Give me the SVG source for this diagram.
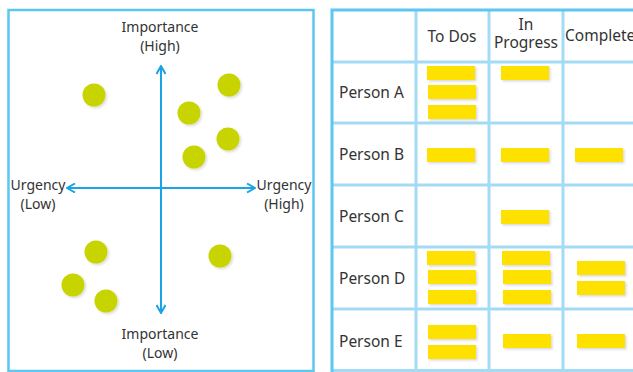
<svg xmlns="http://www.w3.org/2000/svg" width="633" height="372" viewBox="0 0 633 372">
<defs>
<style>
.t{font-family:"Noto Sans","Open Sans",sans-serif;font-size:14px;fill:#333;}
.tb{font-size:15.5px;}
.tc{text-anchor:middle;}
.dot{fill:#c8d400;filter:url(#sh);}
.bar{fill:#ffe100;filter:url(#sh);}
.ax{stroke:#1aa3e6;stroke-width:2;fill:none;}
.grid{stroke:#a3dbf5;stroke-width:3;fill:none;}
</style>
<filter id="sh" x="-30%" y="-30%" width="170%" height="170%">
<feDropShadow dx="1.5" dy="1.5" stdDeviation="1.2" flood-color="#000" flood-opacity="0.15"/>
</filter>
<marker id="ah" viewBox="0 0 10 10" refX="9" refY="5" markerWidth="10" markerHeight="10" markerUnits="userSpaceOnUse" orient="auto">
<path d="M1,0.5 L9,5 L1,9.5" fill="none" stroke="#1aa3e6" stroke-width="2"/>
</marker>
</defs>
<rect width="633" height="372" fill="#fff"/>

<g id="matrix">
<rect x="8.5" y="10" width="305" height="361" fill="#fff" stroke="#5cc7f0" stroke-width="2.5"/>
</g>
<g id="connectors">
<line class="ax" x1="161" y1="188" x2="161" y2="66" marker-end="url(#ah)"/>
<line class="ax" x1="161" y1="188" x2="161" y2="313" marker-end="url(#ah)"/>
<line class="ax" x1="161" y1="188" x2="67" y2="188" marker-end="url(#ah)"/>
<line class="ax" x1="161" y1="188" x2="255" y2="188" marker-end="url(#ah)"/>
</g>
<g id="labels">
<text class="t tc" x="160" y="32">Importance</text>
<text class="t tc" x="160" y="51">(High)</text>
<text class="t tc" x="38" y="190">Urgency</text>
<text class="t tc" x="38" y="209">(Low)</text>
<text class="t tc" x="284" y="190">Urgency</text>
<text class="t tc" x="284" y="209">(High)</text>
<text class="t tc" x="160" y="339">Importance</text>
<text class="t tc" x="160" y="358">(Low)</text>
</g>
<g id="dots">
<circle class="dot" cx="94" cy="95" r="11.5"/>
<circle class="dot" cx="229" cy="85" r="11.5"/>
<circle class="dot" cx="189" cy="113" r="11.5"/>
<circle class="dot" cx="228" cy="139" r="11.5"/>
<circle class="dot" cx="194" cy="157" r="11.5"/>
<circle class="dot" cx="96" cy="252" r="11.5"/>
<circle class="dot" cx="220" cy="256" r="11.5"/>
<circle class="dot" cx="73" cy="285" r="11.5"/>
<circle class="dot" cx="106" cy="301" r="11.5"/>
</g>

<g id="table">
<path class="grid" d="M416,10 V371 M489,10 V371 M563,10 V371 M331,62 H633 M331,123 H633 M331,185 H633 M331,247 H633 M331,309 H633 M331,370.5 H633"/>
<path d="M633,10 H332 V372" fill="none" stroke="#5cc7f0" stroke-width="3"/>
<text class="t tb tc" x="452" y="42">To Dos</text>
<text class="t tb tc" x="526" y="30">In</text>
<text class="t tb tc" x="526" y="48">Progress</text>
<text class="t tb" x="565" y="41">Complete</text>
<text class="t tb" x="339" y="98">Person A</text>
<text class="t tb" x="339" y="160">Person B</text>
<text class="t tb" x="339" y="222">Person C</text>
<text class="t tb" x="339" y="284">Person D</text>
<text class="t tb" x="339" y="347">Person E</text>
</g>
<g id="bars">
<rect class="bar" x="427" y="66" width="48" height="14"/>
<rect class="bar" x="428" y="85" width="48" height="14"/>
<rect class="bar" x="428" y="105" width="48" height="14"/>
<rect class="bar" x="501" y="66" width="48" height="14"/>
<rect class="bar" x="427" y="148" width="48" height="14"/>
<rect class="bar" x="501" y="148" width="48" height="14"/>
<rect class="bar" x="575" y="148" width="48" height="14"/>
<rect class="bar" x="501" y="210" width="48" height="14"/>
<rect class="bar" x="427" y="251" width="48" height="14"/>
<rect class="bar" x="428" y="270" width="48" height="14"/>
<rect class="bar" x="428" y="290" width="48" height="14"/>
<rect class="bar" x="502" y="251" width="48" height="14"/>
<rect class="bar" x="503" y="270" width="48" height="14"/>
<rect class="bar" x="503" y="290" width="48" height="14"/>
<rect class="bar" x="577" y="261" width="48" height="14"/>
<rect class="bar" x="577" y="281" width="48" height="14"/>
<rect class="bar" x="428" y="325" width="48" height="14"/>
<rect class="bar" x="428" y="345" width="48" height="14"/>
<rect class="bar" x="503" y="334" width="48" height="14"/>
<rect class="bar" x="577" y="334" width="48" height="14"/>
</g>
</svg>
